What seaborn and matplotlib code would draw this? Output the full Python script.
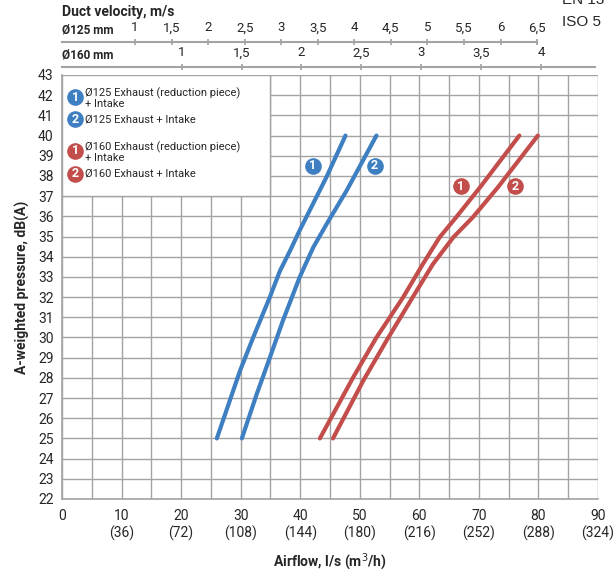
import numpy as np
import pandas as pd
import matplotlib
matplotlib.use("Agg")
import matplotlib.pyplot as plt
from matplotlib.patches import Rectangle
import seaborn as sns

# curves: airflow l/s vs sound pressure dB(A)
b1_flow = [26.0, 29.9, 32.1, 34.9, 36.6, 38.3, 39.9, 44.4, 47.6]
b1_db = [25.0, 28.36, 30.0, 32.0, 33.3, 34.3, 35.3, 37.94, 40.0]
b2_flow = [30.2, 32.7, 34.9, 37.1, 39.9, 42.2, 44.4, 47.8, 52.8]
b2_db = [25.0, 27.2, 29.0, 30.84, 32.98, 34.47, 35.6, 37.28, 40.0]
r1_flow = [43.3, 48.9, 52.8, 57.3, 60.6, 63.4, 66.2, 70.2, 76.8]
r1_db = [25.0, 28.03, 30.0, 32.0, 33.64, 34.96, 35.96, 37.44, 40.0]
r2_flow = [45.5, 50.6, 54.5, 58.9, 62.3, 65.7, 69.0, 73.2, 79.9]
r2_db = [25.0, 27.87, 29.85, 32.0, 33.64, 34.96, 35.96, 37.44, 40.0]

curve_names = ["b1", "b2", "r1", "r2"]
label_pos = {"b1": (42.1, 38.5), "b2": (52.5, 38.5), "r1": (67.0, 37.5), "r2": (76.1, 37.5)}
legend_labels = [("1", "Ø125 Exhaust (reduction piece)", "+ Intake"),
                 ("2", "Ø125 Exhaust + Intake", None),
                 ("1", "Ø160 Exhaust (reduction piece)", "+ Intake"),
                 ("2", "Ø160 Exhaust + Intake", None)]

x_major = [0, 10, 20, 30, 40, 50, 60, 70, 80, 90]
x_m3h = ["", "(36)", "(72)", "(108)", "(144)", "(180)", "(216)", "(252)", "(288)", "(324)"]
v125 = [1, 1.5, 2, 2.5, 3, 3.5, 4, 4.5, 5, 5.5, 6, 6.5]
v160 = [1, 1.5, 2, 2.5, 3, 3.5, 4, 4.5]

BLUE = "#3e7fc2"
RED = "#c24d4b"
GRID = "#a3a3a3"

df = pd.concat([
    pd.DataFrame({"flow": b1_flow, "db": b1_db, "curve": "b1"}),
    pd.DataFrame({"flow": b2_flow, "db": b2_db, "curve": "b2"}),
    pd.DataFrame({"flow": r1_flow, "db": r1_db, "curve": "r1"}),
    pd.DataFrame({"flow": r2_flow, "db": r2_db, "curve": "r2"}),
])
pal = {"b1": BLUE, "b2": BLUE, "r1": RED, "r2": RED}

sns.set_theme(style="white")
plt.rcParams["font.family"] = ["Roboto", "DejaVu Sans"]

fig = plt.figure(figsize=(6.14, 5.72), dpi=100)
ax = fig.add_axes([62/614, 1-499/572, 536/614, 424/572])

sns.lineplot(data=df, x="flow", y="db", hue="curve", palette=pal, sort=False,
             estimator=None, lw=3, ax=ax, legend=False, zorder=3)
for l in ax.get_lines():
    l.set_solid_joinstyle("round")

ax.set_xlim(0, 90)
ax.set_ylim(22, 43)
ax.set_xticks(x_major)
ax.set_xticklabels([f"{a}\n{b}" if b else str(a) for a, b in zip(x_major, x_m3h)],
                   fontsize=10, linespacing=1.25)
ax.set_xticks(np.arange(5, 90, 10), minor=True)
ax.set_yticks(range(22, 44))
ax.tick_params(axis="y", labelsize=10, length=4, color=GRID, direction="out", pad=2)
ax.tick_params(axis="x", which="both", length=5, color=GRID, direction="out", pad=2)
ax.set_axisbelow(True)
ax.grid(True, which="both", color=GRID, lw=1)
for s in ["top", "right"]:
    ax.spines[s].set_visible(False)
for s in ["left", "bottom"]:
    ax.spines[s].set_color(GRID)
    ax.spines[s].set_linewidth(1.2)

ax.set_xlabel("Airflow, l/s (m$^3$/h)", fontsize=10, fontweight="bold", labelpad=8)
ax.set_ylabel("A-weighted pressure, dB(A)", fontsize=10, fontweight="bold", labelpad=6)

# legend area
ax.add_patch(Rectangle((0, 37), 35, 6, facecolor="white", edgecolor=GRID, lw=1, zorder=1.5))
leg_y = [41.9, 40.82, 39.24, 38.1]
leg_col = [BLUE, BLUE, RED, RED]
for (num, line1, line2), yy, c in zip(legend_labels, leg_y, leg_col):
    ax.scatter([2.2], [yy], s=120, color=c, zorder=4)
    ax.text(2.2, yy, num, color="white", fontsize=9, fontweight="bold", ha="center", va="center", zorder=5)
    if line2:
        ax.text(3.9, yy + 0.2, line1, fontsize=8, va="center", zorder=5)
        ax.text(3.9, yy - 0.33, line2, fontsize=8, va="center", zorder=5)
    else:
        ax.text(3.9, yy, line1, fontsize=8, va="center", zorder=5)

for name in curve_names:
    x, y = label_pos[name]
    ax.scatter([x], [y], s=120, color=pal[name], zorder=4)
    ax.text(x, y, name[1], color="white", fontsize=9, fontweight="bold", ha="center", va="center", zorder=5)

# duct velocity axes on top
a125 = np.pi * 0.0625**2 * 1000
a160 = np.pi * 0.08**2 * 1000
sec1 = ax.secondary_xaxis(1 + 33/424, functions=(lambda q: q / a125, lambda v: v * a125))
sec2 = ax.secondary_xaxis(1 + 8/424, functions=(lambda q: q / a160, lambda v: v * a160))
for sec, vals, end in [(sec1, v125, 6.5), (sec2, v160, 4.45)]:
    sec.set_xticks(vals)
    sec.set_xticklabels([f"{v:g}".replace(".", ",") for v in vals], fontsize=9.5)
    sec.tick_params(direction="inout", length=5, color=GRID, pad=3)
    sec.spines["top"].set_color(GRID)
    sec.spines["top"].set_linewidth(1.5)
    sec.spines["top"].set_bounds(0, end)

fig.text(62/614, 1-12/572, "Duct velocity, m/s", fontsize=10, fontweight="bold", va="center")
fig.text(62/614, 1-30/572, "Ø125 mm", fontsize=8.5, fontweight="bold", va="center")
fig.text(62/614, 1-55/572, "Ø160 mm", fontsize=8.5, fontweight="bold", va="center")
fig.text(562/614, 1-22/572, "ISO 5", fontsize=11, va="center", family="Liberation Sans")
fig.text(562/614, 1.0, "EN 13", fontsize=11, va="center", family="Liberation Sans")

fig.savefig("out.png", dpi=100)
